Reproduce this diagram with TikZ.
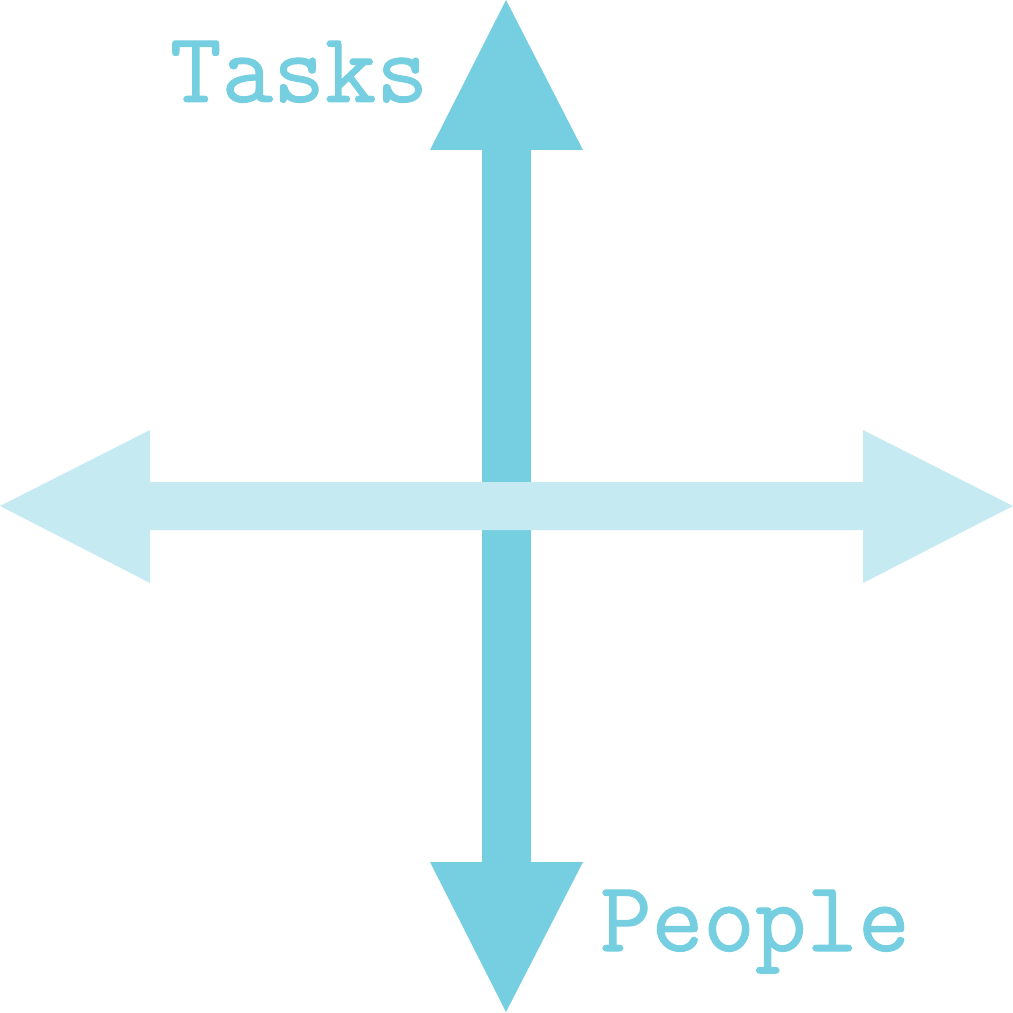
\documentclass[tikz,border=0pt]{standalone}
\usepackage{fontspec}
\newfontfamily\lblfont[FakeBold=1.0]{Latin Modern Mono}
\definecolor{vblue}{HTML}{76CFE1}
\definecolor{hblue}{HTML}{C6EAF2}
\begin{document}
\begin{tikzpicture}[x=0.01cm,y=-0.01cm,
  lbl/.style={text=vblue,font=\lblfont\fontsize{28.5}{30}\selectfont,anchor=base west,inner sep=0pt,outer sep=0pt}]
\useasboundingbox (0,0) rectangle (1013,1013);
% vertical double arrow
\fill[vblue] (506,0) -- (583,150) -- (531,150) -- (531,862) -- (583,862) -- (506,1012)
  -- (430,862) -- (482,862) -- (482,150) -- (430,150) -- cycle;
% horizontal double arrow
\fill[hblue] (0,506) -- (150,430) -- (150,482) -- (863,482) -- (863,430) -- (1013,506)
  -- (863,583) -- (863,530) -- (150,530) -- (150,583) -- cycle;
\node[lbl] (tasks) at (170,102) {Tasks};
\node[lbl] (people) at (600,951) {People};
\end{tikzpicture}
\end{document}
